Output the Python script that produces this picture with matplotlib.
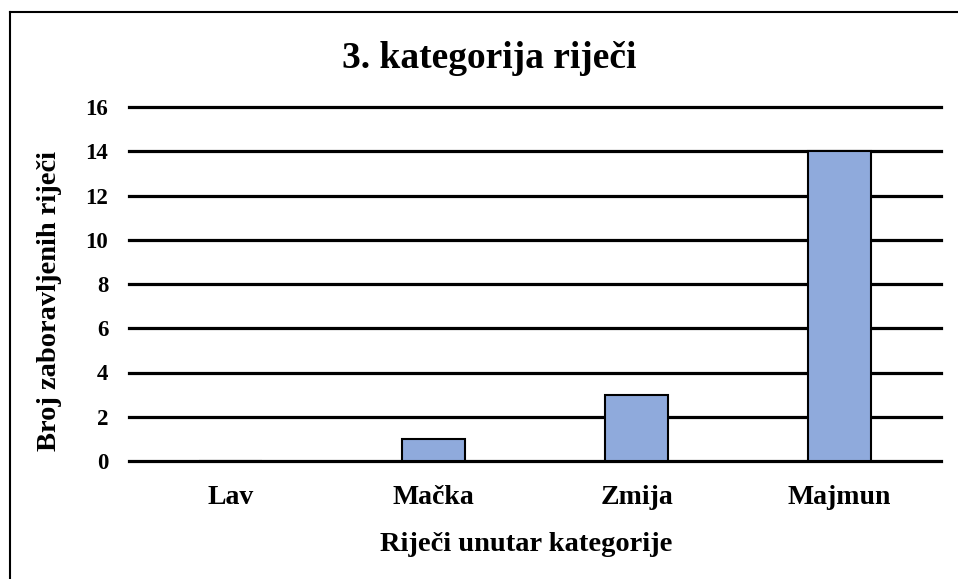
import matplotlib.pyplot as plt
from matplotlib.lines import Line2D

kategorije = ['Lav', 'Mačka', 'Zmija', 'Majmun']
vrijednosti = [0, 1, 3, 14]
y_ticks = [0, 2, 4, 6, 8, 10, 12, 14, 16]

plt.rcParams['font.family'] = ['Liberation Serif', 'DejaVu Serif']
plt.rcParams['font.weight'] = 'bold'

fig = plt.figure(figsize=(9.58, 5.79), dpi=100)
ax = fig.add_axes([129 / 958, 1 - 461 / 579, (941 - 129) / 958, (461 - 107) / 579])

x = range(len(kategorije))
ax.bar(x, vrijednosti, width=0.31, color='#8FAADC', edgecolor='black', linewidth=1.5, zorder=3)

ax.set_xlim(-0.5, len(kategorije) - 0.5)
ax.set_ylim(0, 16)
ax.set_yticks(y_ticks)
ax.set_yticklabels([str(t) for t in y_ticks], fontsize=16.5, fontweight='bold')
ax.set_xticks(list(x))
ax.set_xticklabels(kategorije, fontsize=20, fontweight='bold')
ax.tick_params(length=0)
ax.tick_params(axis='y', pad=15)
ax.tick_params(axis='x', pad=17)

for t in y_ticks:
    ax.axhline(t, color='black', linewidth=2.3, zorder=1, clip_on=False)
for s in ax.spines.values():
    s.set_visible(False)

fig.suptitle('3. kategorija riječi', x=489 / 958, y=1 - 58 / 579, va='center',
             fontsize=27, fontweight='bold')
ax.set_xlabel('Riječi unutar kategorije', fontsize=20.5, fontweight='bold', va='top')
ax.xaxis.set_label_coords(0.489, -0.2)
ax.set_ylabel('Broj zaboravljenih riječi', fontsize=20.5, fontweight='bold')
ax.yaxis.set_label_coords(-0.082, 0.452)

# okvir oko grafikona
fig.add_artist(Line2D([9.5 / 958, 9.5 / 958], [0, 1 - 12 / 579], color='black', linewidth=1.5,
                      transform=fig.transFigure))
fig.add_artist(Line2D([9.5 / 958, 1], [1 - 12 / 579, 1 - 12 / 579], color='black', linewidth=1.5,
                      transform=fig.transFigure))

fig.savefig('out.png', dpi=100)
